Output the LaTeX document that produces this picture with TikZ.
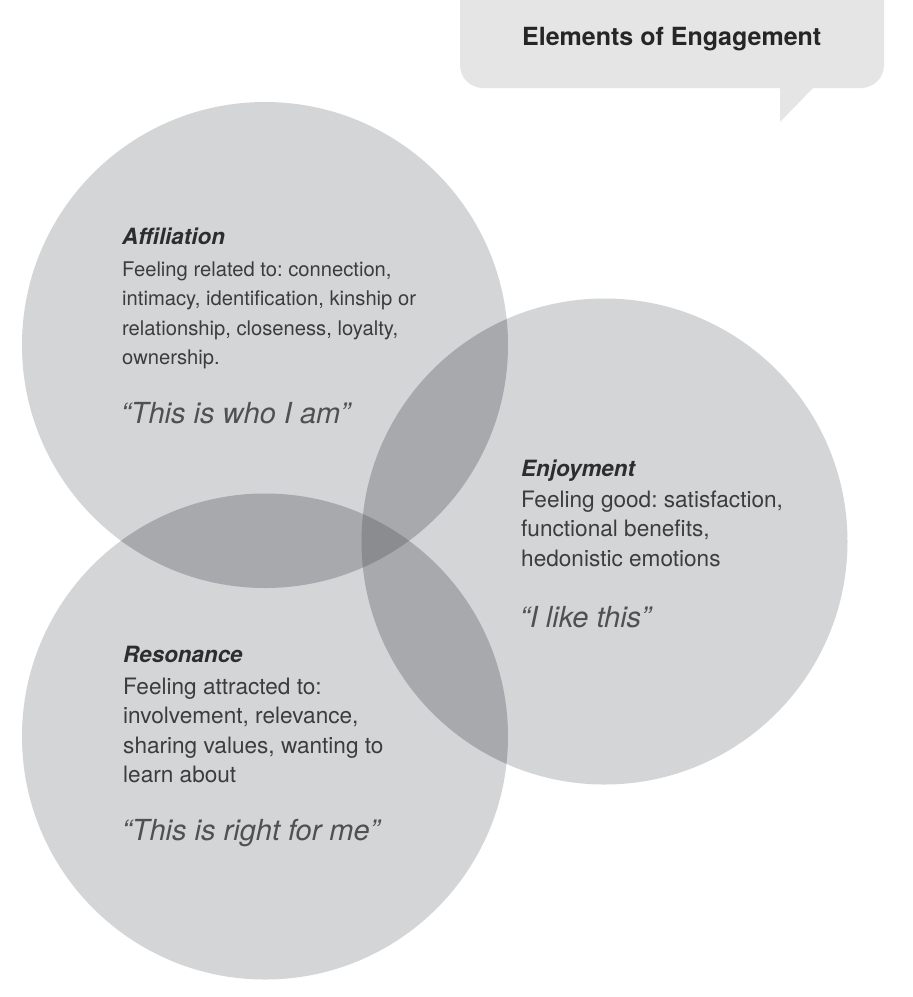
\documentclass[tikz,border=0pt]{standalone}
\usepackage{fontspec}
\setmainfont{TeX Gyre Heros}
\frenchspacing
\definecolor{cone}{RGB}{212,213,215}
\definecolor{ctwo}{RGB}{168,169,172}
\definecolor{cthree}{RGB}{139,140,143}
\definecolor{cbubble}{RGB}{229,229,229}
\definecolor{ctitle}{RGB}{45,45,45}
\definecolor{cbody}{RGB}{60,60,60}
\definecolor{cquote}{RGB}{80,80,80}
\tikzset{
  titletext/.style={anchor=base west, inner sep=0pt, text=ctitle, font=\fontsize{22.4}{30}\selectfont\bfseries\itshape},
  bodytext/.style={anchor=base west, inner sep=0pt, align=left, text=cbody, font=\fontsize{20.2}{29.5}\selectfont},
  bodylarge/.style={bodytext, font=\fontsize{22.6}{29.5}\selectfont},
  quotetext/.style={anchor=base west, inner sep=0pt, text=cquote, font=\fontsize{29}{34}\selectfont\itshape},
  headtext/.style={anchor=base west, inner sep=0pt, text=black!85, font=\fontsize{25}{28}\selectfont\bfseries},
}
\begin{document}
\begin{tikzpicture}[x=1pt,y=-1pt]
\useasboundingbox (0,0) rectangle (913,997);
\clip (0,0) rectangle (913,997);
\fill[white] (0,0) rectangle (913,997);
% circles
\def\rr{243}
\coordinate (ca) at (265,345);
\coordinate (ce) at (604.5,541.5);
\coordinate (cr) at (265,736.5);
\fill[cone] (ca) circle[radius=\rr];
\fill[cone] (ce) circle[radius=\rr];
\fill[cone] (cr) circle[radius=\rr];
\begin{scope}
  \clip (ca) circle[radius=\rr];
  \fill[ctwo] (ce) circle[radius=\rr];
  \fill[ctwo] (cr) circle[radius=\rr];
\end{scope}
\begin{scope}
  \clip (ce) circle[radius=\rr];
  \fill[ctwo] (cr) circle[radius=\rr];
\end{scope}
\begin{scope}
  \clip (ca) circle[radius=\rr];
  \clip (ce) circle[radius=\rr];
  \fill[cthree] (cr) circle[radius=\rr];
\end{scope}
% speech bubble
\fill[cbubble, rounded corners=23pt] (460,-40) rectangle (884,88);
\fill[cbubble] (780,80) -- (780,122) -- (813,88) -- (813,80) -- cycle;
\node[headtext] (head) at (522,45) {Elements of Engagement};
% Affiliation (body nodes are anchored at the baseline of their last line)
\node[titletext] (afft) at (122,244) {Affiliation};
\node[bodytext] (affb) at (122,364.5) {Feeling related to: connection,\\intimacy, identification, kinship or\\relationship, closeness, loyalty,\\ownership.};
\node[quotetext] (affq) at (121,423) {“This is who I am”};
% Enjoyment
\node[titletext] (enjt) at (521,476) {Enjoyment};
\node[bodylarge] (enjb) at (521,566) {Feeling good: satisfaction,\\functional benefits,\\hedonistic emotions};
\node[quotetext] (enjq) at (520,627) {“I like this”};
% Resonance
\node[titletext] (rest) at (123,662) {Resonance};
\node[bodylarge] (resb) at (123,782.5) {Feeling attracted to:\\involvement, relevance,\\sharing values, wanting to\\learn about};
\node[quotetext] (resq) at (122,840) {“This is right for me”};
\end{tikzpicture}
\end{document}
